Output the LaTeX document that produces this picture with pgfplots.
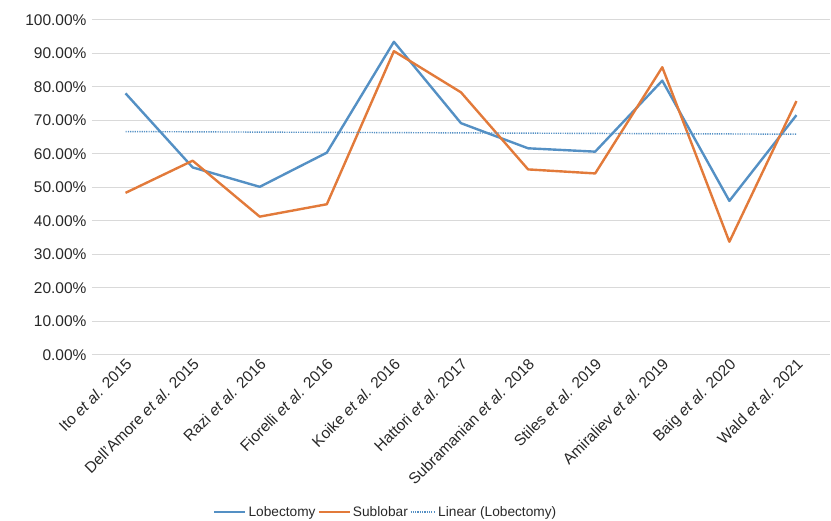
\documentclass[border=0pt]{standalone}
\usepackage{pgfplots}
\usepackage{pgfplotstable}
\pgfplotsset{compat=1.18}
\usepackage{fontspec}
\setmainfont{Liberation Sans}
\definecolor{lobblue}{RGB}{84,144,196}
\definecolor{subor}{RGB}{226,122,58}
\definecolor{gridgray}{RGB}{217,217,217}
\definecolor{txt}{RGB}{40,40,40}
\pgfplotstableread{
x lob sub
0 78.1 48.4
1 56.0 58.0
2 50.2 41.3
3 60.4 45.0
4 93.5 90.7
5 69.2 78.4
6 61.7 55.4
7 60.7 54.2
8 81.9 85.9
9 46.0 33.8
10 71.6 75.8
}\datatable
\begin{document}
\begin{tikzpicture}[x=1pt,y=1pt]
\useasboundingbox (-92,-166) rectangle (739,355);
\begin{axis}[
  at={(0,0)}, anchor=south west,
  scale only axis, width=738pt, height=335pt,
  xmin=-0.5, xmax=10.5, ymin=0, ymax=100,
  ytick={0,10,...,100},
  xtick={0,...,10},
  xticklabels={{Ito \textit{et al.} 2015},{Dell'Amore \textit{et al.} 2015},{Razi \textit{et al.} 2016},{Fiorelli \textit{et al.} 2016},{Koike \textit{et al.} 2016},{Hattori \textit{et al.} 2017},{Subramanian \textit{et al.} 2018},{Stiles \textit{et al.} 2019},{Amiraliev \textit{et al.} 2019},{Baig \textit{et al.} 2020},{Wald \textit{et al.} 2021}},
  xticklabel style={rotate=45, anchor=north east, font=\fontsize{15.5}{18}\selectfont, text=txt, inner sep=1pt, xshift=-1pt},
  yticklabel={\pgfmathprintnumber[fixed,fixed zerofill,precision=2,assume math mode=true]{\tick}\%},
  yticklabel style={font=\fontsize{15.5}{18}\selectfont, text=txt, xshift=-2pt},
  /pgf/number format/assume math mode=true,
  axis line style={draw=none},
  major tick length=0pt,
  ymajorgrids, grid style={gridgray, line width=1pt},
  clip=false,
  legend columns=3,
  legend style={draw=none, fill=none, at={(0.398,-0.469)}, anchor=center,
    font=\fontsize{13.7}{16}\selectfont, text=txt, inner xsep=0pt,
    /tikz/every even column/.append style={column sep=0pt}},
  legend cell align=left,
]
\draw[gridgray, line width=1pt] (axis cs:-0.5,0) -- (axis cs:10.5,0);
\addplot[lobblue, line width=2.4pt, line join=round,
  legend image code/.code={\draw[lobblue, line width=2.4pt] (0pt,0pt) -- (31pt,0pt);}]
  table[x=x, y=lob] {\datatable};
\addlegendentry{Lobectomy}
\addplot[subor, line width=2.4pt, line join=round,
  legend image code/.code={\draw[subor, line width=2.4pt] (0pt,0pt) -- (31pt,0pt);}]
  table[x=x, y=sub] {\datatable};
\addlegendentry{Sublobar}
\addplot[lobblue, line width=1.4pt, dash pattern=on 1.2pt off 1.1pt,
  legend image code/.code={\draw[lobblue, line width=1.4pt, dash pattern=on 1.2pt off 1.1pt] (6pt,0pt) -- (31pt,0pt);}]
  table[x=x, y={create col/linear regression={y=lob}}] {\datatable};
\addlegendentry{Linear (Lobectomy)}
\end{axis}
\end{tikzpicture}
\end{document}
